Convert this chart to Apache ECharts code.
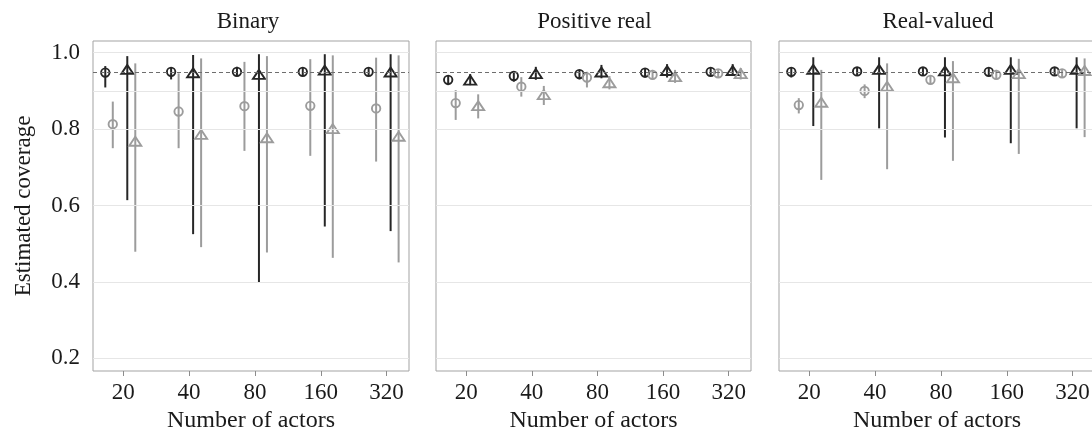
<!DOCTYPE html>
<html>
<head>
<meta charset="utf-8">
<script src="https://cdn.jsdelivr.net/npm/echarts@6/dist/echarts.min.js"></script>
<style>
  html, body { margin: 0; padding: 0; background: #fff; }
  #chart { width: 1092px; height: 435px; }
</style>
</head>
<body>
<div id="chart"></div>
<script>
// number of actors on the x axis
const sizes = ['20', '40', '80', '160', '320'];
const panelTitles = ['Binary', 'Positive real', 'Real-valued'];
const yTicks = [0.2, 0.4, 0.6, 0.8, 1.0];
const nominal = 0.95;

// each entry: [estimate, lower, upper]
const binDarkCircle = [[0.948, 0.909, 0.965], [0.950, 0.930, 0.962], [0.950, 0.940, 0.963], [0.950, 0.940, 0.962], [0.950, 0.940, 0.962]];
const binLightCircle = [[0.813, 0.750, 0.872], [0.846, 0.750, 0.946], [0.860, 0.743, 0.976], [0.861, 0.730, 0.983], [0.854, 0.715, 0.987]];
const binDarkTri = [[0.955, 0.614, 0.991], [0.946, 0.525, 0.994], [0.942, 0.398, 0.996], [0.953, 0.545, 0.996], [0.948, 0.533, 0.996]];
const binLightTri = [[0.767, 0.479, 0.972], [0.785, 0.491, 0.985], [0.776, 0.477, 0.991], [0.800, 0.463, 0.993], [0.780, 0.451, 0.993]];

const posDarkCircle = [[0.929, 0.915, 0.939], [0.939, 0.924, 0.952], [0.944, 0.930, 0.955], [0.948, 0.935, 0.960], [0.950, 0.940, 0.960]];
const posLightCircle = [[0.868, 0.824, 0.902], [0.911, 0.885, 0.936], [0.935, 0.909, 0.950], [0.942, 0.930, 0.955], [0.946, 0.935, 0.957]];
const posDarkTri = [[0.927, 0.915, 0.944], [0.944, 0.929, 0.963], [0.948, 0.933, 0.968], [0.952, 0.935, 0.970], [0.952, 0.940, 0.970]];
const posLightTri = [[0.860, 0.828, 0.891], [0.889, 0.863, 0.913], [0.920, 0.904, 0.939], [0.936, 0.921, 0.955], [0.944, 0.930, 0.960]];

const realDarkCircle = [[0.950, 0.935, 0.960], [0.951, 0.940, 0.960], [0.951, 0.940, 0.962], [0.950, 0.940, 0.960], [0.951, 0.940, 0.960]];
const realLightCircle = [[0.863, 0.841, 0.881], [0.900, 0.881, 0.917], [0.929, 0.917, 0.940], [0.942, 0.930, 0.955], [0.946, 0.935, 0.957]];
const realDarkTri = [[0.955, 0.808, 0.988], [0.955, 0.802, 0.988], [0.951, 0.778, 0.988], [0.955, 0.763, 0.988], [0.955, 0.802, 0.988]];
const realLightTri = [[0.869, 0.667, 0.955], [0.911, 0.695, 0.972], [0.933, 0.717, 0.978], [0.944, 0.735, 0.984], [0.952, 0.779, 0.985]];

const panels = [
    [binDarkCircle, binLightCircle, binDarkTri, binLightTri],
    [posDarkCircle, posLightCircle, posDarkTri, posLightTri],
    [realDarkCircle, realLightCircle, realDarkTri, realLightTri]
];

const FONT = '"Liberation Serif", "DejaVu Serif", serif';
const TEXT = '#1a1a1a';
const DARK = '#262626';
const LIGHT = '#9c9c9c';
// dodge of each group (px), colour and symbol
const groups = [
    { dx: -18, color: DARK, shape: 'circle' },
    { dx: -10.5, color: LIGHT, shape: 'circle' },
    { dx: 4, color: DARK, shape: 'triangle' },
    { dx: 12, color: LIGHT, shape: 'triangle' }
];

const gridLefts = [93, 436, 779];
const gridWidths = [316, 315, 316];
const titleShift = [-8, -4, -4];

const makeRender = (g) => (params, api) => {
    const x = api.value(0);
    const p = api.coord([x, api.value(1)]);
    const lo = api.coord([x, api.value(2)]);
    const hi = api.coord([x, api.value(3)]);
    const cx = p[0] + g.dx, cy = p[1];
    const style = { stroke: g.color, lineWidth: 1.9, fill: 'none' };
    const sym = g.shape === 'circle'
        ? { type: 'circle', shape: { cx: cx, cy: cy, r: 4.2 }, style: style }
        : { type: 'polygon', shape: { points: [[cx, cy - 5], [cx - 6, cy + 4], [cx + 6, cy + 4]] }, style: style };
    return {
        type: 'group',
        children: [
            { type: 'line', shape: { x1: cx, y1: hi[1], x2: cx, y2: lo[1] }, style: { stroke: g.color, lineWidth: 2 } },
            sym
        ]
    };
};

let grids = [], xAxes = [], yAxes = [], titles = [], series = [];
panels.forEach((panel, k) => {
    grids.push({
        left: gridLefts[k], top: 41, width: gridWidths[k], height: 330,
        outerBoundsMode: 'none', containLabel: false,
        show: true, borderColor: '#a3a3a3', borderWidth: 1
    });
    titles.push({
        text: panelTitles[k], left: gridLefts[k] + gridWidths[k] / 2 + titleShift[k], top: 5, textAlign: 'center',
        textStyle: { fontFamily: FONT, fontWeight: 'normal', fontSize: 23, color: TEXT }
    });
    xAxes.push({
        gridIndex: k, type: 'value', min: -0.46, max: 4.34,
        name: 'Number of actors', nameLocation: 'middle', nameGap: 38,
        nameTextStyle: { fontFamily: FONT, fontSize: 24, color: TEXT },
        axisLine: { show: false },
        axisTick: { show: true, length: 5, lineStyle: { color: '#8c8c8c' }, customValues: [0, 1, 2, 3, 4] },
        axisLabel: { customValues: [0, 1, 2, 3, 4], formatter: (v) => sizes[Math.round(v)], margin: 10, fontFamily: FONT, fontSize: 23, color: TEXT },
        splitLine: { show: false }
    });
    yAxes.push({
        gridIndex: k, type: 'value', min: 0.1668, max: 1.0306,
        name: k === 0 ? 'Estimated coverage' : '', nameLocation: 'middle', nameGap: 58,
        nameTextStyle: { fontFamily: FONT, fontSize: 23, color: TEXT },
        axisLine: { show: false },
        axisTick: { show: k === 0, length: 6, lineStyle: { color: '#8c8c8c' }, customValues: yTicks },
        axisLabel: { show: k === 0, customValues: yTicks, formatter: (v) => v.toFixed(1), margin: 13, fontFamily: FONT, fontSize: 23, color: TEXT },
        splitLine: { show: false }
    });
    // background grid lines and nominal level
    series.push({
        type: 'line', xAxisIndex: k, yAxisIndex: k, data: [], z: 1, silent: true,
        markLine: {
            silent: true, symbol: 'none', label: { show: false },
            data: yTicks.concat([0.9]).map(v => ({ yAxis: v, lineStyle: { color: '#e6e6e6', width: 1.2, type: 'solid' } }))
                .concat([{ yAxis: nominal, lineStyle: { color: '#6e6e6e', width: 1, type: [4, 3] } }])
        }
    });
    panel.forEach((arr, j) => {
        series.push({
            type: 'custom', xAxisIndex: k, yAxisIndex: k, z: 3,
            renderItem: makeRender(groups[j]),
            data: arr.map((d, i) => [i, d[0], d[1], d[2]])
        });
    });
});

const chart = echarts.init(document.getElementById('chart'));
chart.setOption({
    backgroundColor: '#fff',
    animation: false,
    title: titles,
    grid: grids,
    xAxis: xAxes,
    yAxis: yAxes,
    series: series
});
</script>
</body>
</html>
